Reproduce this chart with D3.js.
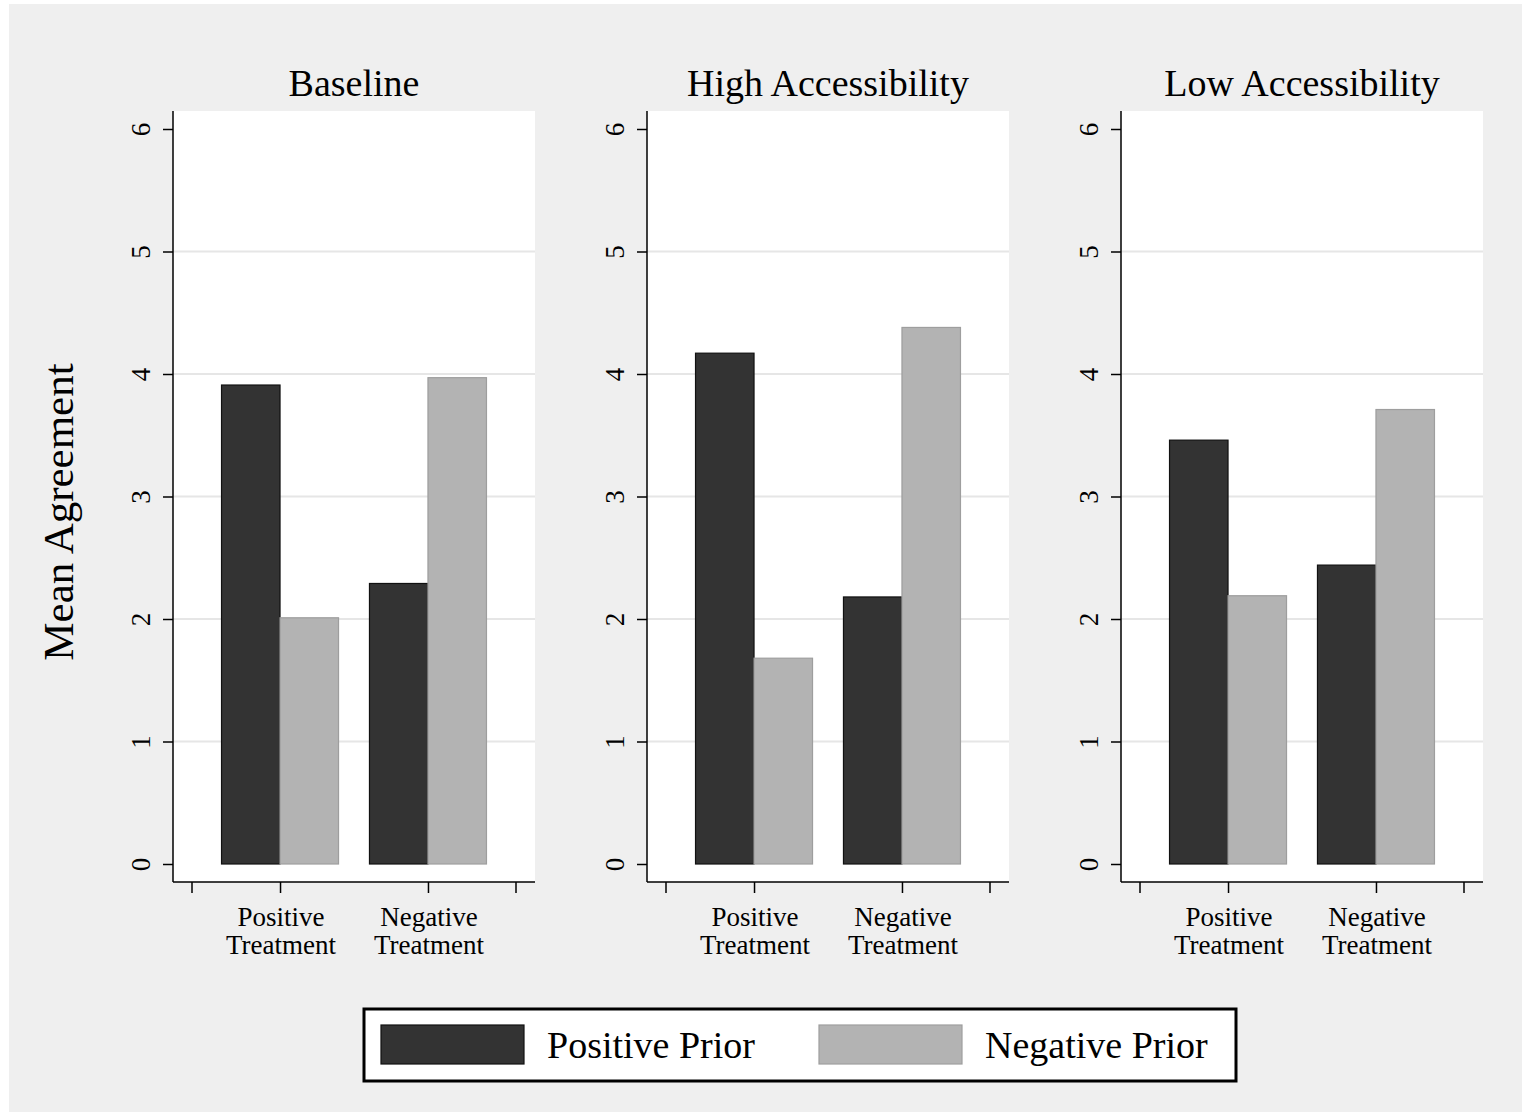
<!DOCTYPE html>
<html>
<head>
<meta charset="utf-8">
<script src="https://cdn.jsdelivr.net/npm/d3@7"></script>
<style>
  body { margin: 0; background: #fff; }
  svg { display: block; }
  text { font-family: "Liberation Serif", "Times New Roman", serif; fill: #000; }
</style>
</head>
<body>
<div id="chart"></div>
<script>
// data
const panels = ["Baseline", "High Accessibility", "Low Accessibility"];
const treatments = ["Positive Treatment", "Negative Treatment"];
const series = ["Positive Prior", "Negative Prior"];
// values[panel][treatment] for each prior
const positivePrior = [[3.91, 2.29], [4.17, 2.18], [3.46, 2.44]];
const negativePrior = [[2.01, 3.97], [1.68, 4.38], [2.19, 3.71]];
const yTicks = [0, 1, 2, 3, 4, 5, 6];

const width = 1522, height = 1112;
const colors = {"Positive Prior": "#333333", "Negative Prior": "#b3b3b3"};
const strokes = {"Positive Prior": "#111111", "Negative Prior": "#9e9e9e"};

const svg = d3.select("#chart").append("svg")
    .attr("width", width)
    .attr("height", height);

// grey graph region with thin white strip on top/left like the original export
svg.append("rect").attr("width", width).attr("height", height).attr("fill", "#fff");
svg.append("rect").attr("x", 9).attr("y", 4)
    .attr("width", width - 9).attr("height", height - 4)
    .attr("fill", "#efefef");

// panel geometry
const plotW = 362, plotTop = 111, plotBottom = 882;
const panelX = d3.scalePoint().domain(panels).range([173, 1121]);

const y = d3.scaleLinear().domain([0, 6]).range([864, 129]);

panels.forEach((p, pi) => {
    const left = panelX(p);
    const g = svg.append("g").attr("transform", `translate(${left},0)`);

    // white plot area
    g.append("rect")
        .attr("x", 0).attr("y", plotTop)
        .attr("width", plotW).attr("height", plotBottom - plotTop)
        .attr("fill", "#fff");

    // gridlines
    g.selectAll(".grid")
        .data(yTicks.filter(t => t > 0 && t < 6))
        .join("line")
        .attr("x1", 0).attr("x2", plotW)
        .attr("y1", d => y(d)).attr("y2", d => y(d))
        .attr("stroke", "#e6e6e6")
        .attr("stroke-width", 2);

    // x scales: treatments, then series inside each group
    const x = d3.scalePoint().domain(treatments).range([19, plotW - 19]).padding(0.595);
    const xs = d3.scaleBand().domain(series).range([-58.5, 58.5]);

    const rows = [];
    treatments.forEach((t, ti) => {
        rows.push({t: t, s: series[0], v: positivePrior[pi][ti]});
        rows.push({t: t, s: series[1], v: negativePrior[pi][ti]});
    });

    g.selectAll(".bar")
        .data(rows)
        .join("rect")
        .attr("class", "bar")
        .attr("x", d => x(d.t) + xs(d.s))
        .attr("width", xs.bandwidth())
        .attr("y", d => y(d.v))
        .attr("height", d => y(0) - y(d.v))
        .attr("fill", d => colors[d.s])
        .attr("stroke", d => strokes[d.s])
        .attr("stroke-width", 1.2);

    // y axis
    const yAxis = g.append("g")
        .call(d3.axisLeft(y).tickValues(yTicks).tickFormat(d3.format("d"))
            .tickSize(10).tickSizeOuter(0));
    yAxis.select(".domain").remove();
    yAxis.selectAll(".tick line").attr("stroke", "#000").attr("stroke-width", 1.5);
    yAxis.selectAll(".tick text")
        .attr("font-size", 27)
        .attr("font-family", "Liberation Serif")
        .attr("transform", "rotate(-90)")
        .attr("text-anchor", "middle")
        .attr("x", 0)
        .attr("y", -23)
        .attr("dy", 0);
    g.append("line")
        .attr("x1", 0).attr("x2", 0)
        .attr("y1", plotTop).attr("y2", plotBottom)
        .attr("stroke", "#000").attr("stroke-width", 1.5);

    // x axis: line, end ticks and category ticks
    g.append("line")
        .attr("x1", 0).attr("x2", plotW)
        .attr("y1", plotBottom).attr("y2", plotBottom)
        .attr("stroke", "#000").attr("stroke-width", 1.5);
    g.selectAll(".xend")
        .data(x.range())
        .join("line")
        .attr("x1", d => d).attr("x2", d => d)
        .attr("y1", plotBottom).attr("y2", plotBottom + 11)
        .attr("stroke", "#000").attr("stroke-width", 1.5);

    const xAxis = g.append("g")
        .attr("transform", `translate(0,${plotBottom})`)
        .call(d3.axisBottom(x).tickSize(11).tickFormat(""));
    xAxis.select(".domain").remove();
    xAxis.selectAll(".tick line").attr("stroke", "#000").attr("stroke-width", 1.5);

    // two-line category labels
    const lab = g.selectAll(".xlab")
        .data(treatments)
        .join("text")
        .attr("class", "xlab")
        .attr("text-anchor", "middle")
        .attr("font-size", 27)
        .attr("transform", d => `translate(${x(d) + 1},926)`);
    lab.selectAll("tspan")
        .data(d => d.split(" "))
        .join("tspan")
        .attr("x", 0)
        .attr("dy", (d, i) => i === 0 ? 0 : 28)
        .text(d => d);

    // panel title
    g.append("text")
        .attr("x", plotW / 2)
        .attr("y", 96)
        .attr("text-anchor", "middle")
        .attr("font-size", 38)
        .text(p);
});

// shared y title
svg.append("text")
    .attr("transform", "translate(73,512) rotate(-90)")
    .attr("text-anchor", "middle")
    .attr("font-size", 43)
    .text("Mean Agreement");

// legend
const legend = svg.append("g");
legend.append("rect")
    .attr("x", 364).attr("y", 1009)
    .attr("width", 872).attr("height", 72)
    .attr("fill", "#fff")
    .attr("stroke", "#000")
    .attr("stroke-width", 3);

const legX = d3.scalePoint().domain(series).range([381, 819]);
const item = legend.selectAll(".item")
    .data(series)
    .join("g")
    .attr("transform", d => `translate(${legX(d)},1025)`);
item.append("rect")
    .attr("width", 143).attr("height", 39)
    .attr("fill", d => colors[d])
    .attr("stroke", d => d === series[0] ? "#111" : "#9e9e9e")
    .attr("stroke-width", 1.2);
item.append("text")
    .attr("x", 166)
    .attr("y", 33)
    .attr("font-size", 38)
    .text(d => d);
</script>
</body>
</html>
